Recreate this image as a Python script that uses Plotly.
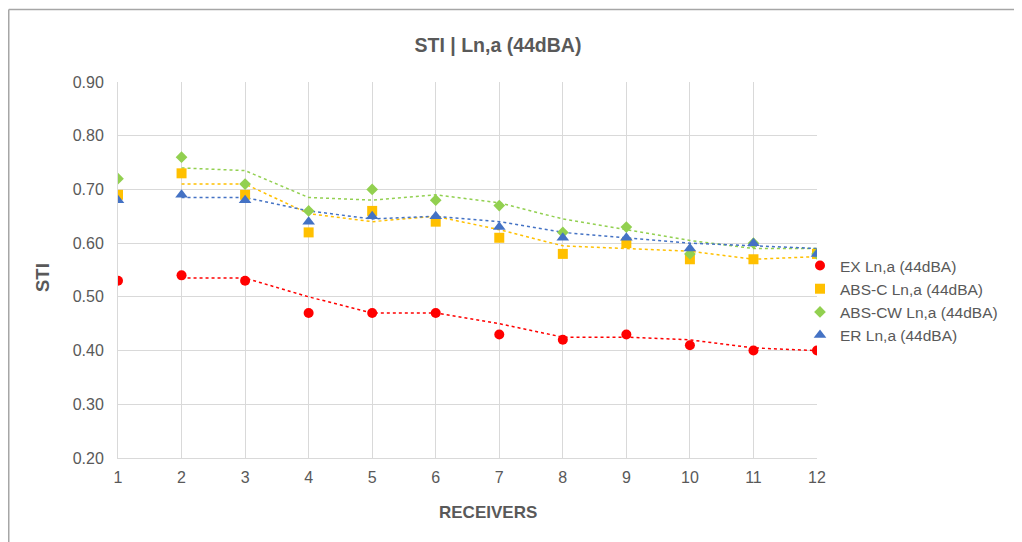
import plotly.graph_objects as go

receivers = [1, 2, 3, 4, 5, 6, 7, 8, 9, 10, 11, 12]
ex_vals = [0.53, 0.54, 0.53, 0.47, 0.47, 0.47, 0.43, 0.42, 0.43, 0.41, 0.40, 0.40]
absc_vals = [0.69, 0.73, 0.69, 0.62, 0.66, 0.64, 0.61, 0.58, 0.60, 0.57, 0.57, 0.58]
abscw_vals = [0.72, 0.76, 0.71, 0.66, 0.70, 0.68, 0.67, 0.62, 0.63, 0.58, 0.60, 0.58]
er_vals = [0.68, 0.69, 0.68, 0.64, 0.65, 0.65, 0.63, 0.61, 0.61, 0.59, 0.60, 0.58]

names = ["EX Ln,a (44dBA)", "ABS-C Ln,a (44dBA)", "ABS-CW Ln,a (44dBA)", "ER Ln,a (44dBA)"]
series = [ex_vals, absc_vals, abscw_vals, er_vals]
colors = ["#FF0000", "#FFC000", "#92D050", "#4472C4"]
symbols = ["circle", "square", "diamond", "triangle-up"]
sizes = [10, 10, 9, 11]

font_family = "Liberation Sans, Arial, Helvetica, sans-serif"
grey = "#595959"

fig = go.Figure()

# 2-period moving average trendlines (Excel style)
for vals, col in zip(series, colors):
    ma_x = receivers[1:]
    ma_y = [(vals[i - 1] + vals[i]) / 2 for i in range(1, len(vals))]
    fig.add_trace(go.Scatter(x=ma_x, y=ma_y, mode="lines", showlegend=False,
                             hoverinfo="skip",
                             line=dict(color=col, width=1.5, dash="dot")))

for vals, name, col, sym, sz in zip(series, names, colors, symbols, sizes):
    fig.add_trace(go.Scatter(x=receivers, y=vals, mode="markers", name=name,
                             marker=dict(color=col, symbol=sym, size=sz,
                                         line=dict(width=0))))

OFF = 8  # page body offset
W, H = 1022 - 2 * OFF, 542 - OFF
L, T = 118 - OFF, 82 - OFF
Rpx, Bpx = 817 - OFF, 458 - OFF
R, B = W - Rpx, H - Bpx
pw, ph = Rpx - L, Bpx - T

def px2x(spx):
    return (spx - OFF - L) / pw

def py2y(spy):
    return (Bpx - (spy - OFF)) / ph

fig.update_layout(
    width=W, height=H,
    margin=dict(l=L, r=R, t=T, b=B, autoexpand=False),
    paper_bgcolor="white", plot_bgcolor="white",
    font=dict(family=font_family, color=grey, size=16),
    title=dict(text="<b>STI | Ln,a (44dBA)</b>", x=(498 - OFF) / W, xref="container",
               y=1 - (45 - OFF) / H, yref="container", xanchor="center", yanchor="middle",
               font=dict(size=19.5, color=grey, family=font_family)),
    xaxis=dict(range=[1, 12], tickmode="linear", tick0=1, dtick=1,
               showgrid=True, gridcolor="#D9D9D9", gridwidth=1,
               showline=True, linecolor="#D9D9D9", linewidth=1,
               zeroline=False, ticks="", tickfont=dict(size=16, color=grey),
               ticklabelstandoff=5),
    yaxis=dict(range=[0.2, 0.9], tickmode="linear", tick0=0.2, dtick=0.1,
               tickformat=".2f", showgrid=True, gridcolor="#D9D9D9", gridwidth=1,
               showline=True, linecolor="#D9D9D9", linewidth=1,
               zeroline=False, ticks="", tickfont=dict(size=16, color=grey),
               ticklabelstandoff=10),
    legend=dict(x=px2x(800), y=py2y(249), xanchor="left", yanchor="top",
                font=dict(size=15.5, color=grey, family=font_family),
                bgcolor="rgba(0,0,0,0)", itemsizing="trace", tracegroupgap=0),
    showlegend=True,
)

fig.add_annotation(text="<b>RECEIVERS</b>", x=px2x(488), y=py2y(513), xref="paper", yref="paper",
                   showarrow=False, xanchor="center", yanchor="middle",
                   font=dict(size=17, color=grey, family=font_family))
fig.add_annotation(text="<b>STI</b>", x=px2x(42), y=py2y(278), xref="paper", yref="paper",
                   showarrow=False, xanchor="center", yanchor="middle", textangle=-90,
                   font=dict(size=18.5, color=grey, family=font_family))

# chart frame (top and left edges visible)
fig.add_shape(type="line", xref="paper", yref="paper", x0=px2x(8.75), x1=px2x(1040),
              y0=py2y(9.5), y1=py2y(9.5), line=dict(color="#A6A6A6", width=1.5))
fig.add_shape(type="line", xref="paper", yref="paper", x0=px2x(8.75), x1=px2x(8.75),
              y0=py2y(9.5), y1=py2y(560), line=dict(color="#A6A6A6", width=1.5))

fig.write_html("out.html")
